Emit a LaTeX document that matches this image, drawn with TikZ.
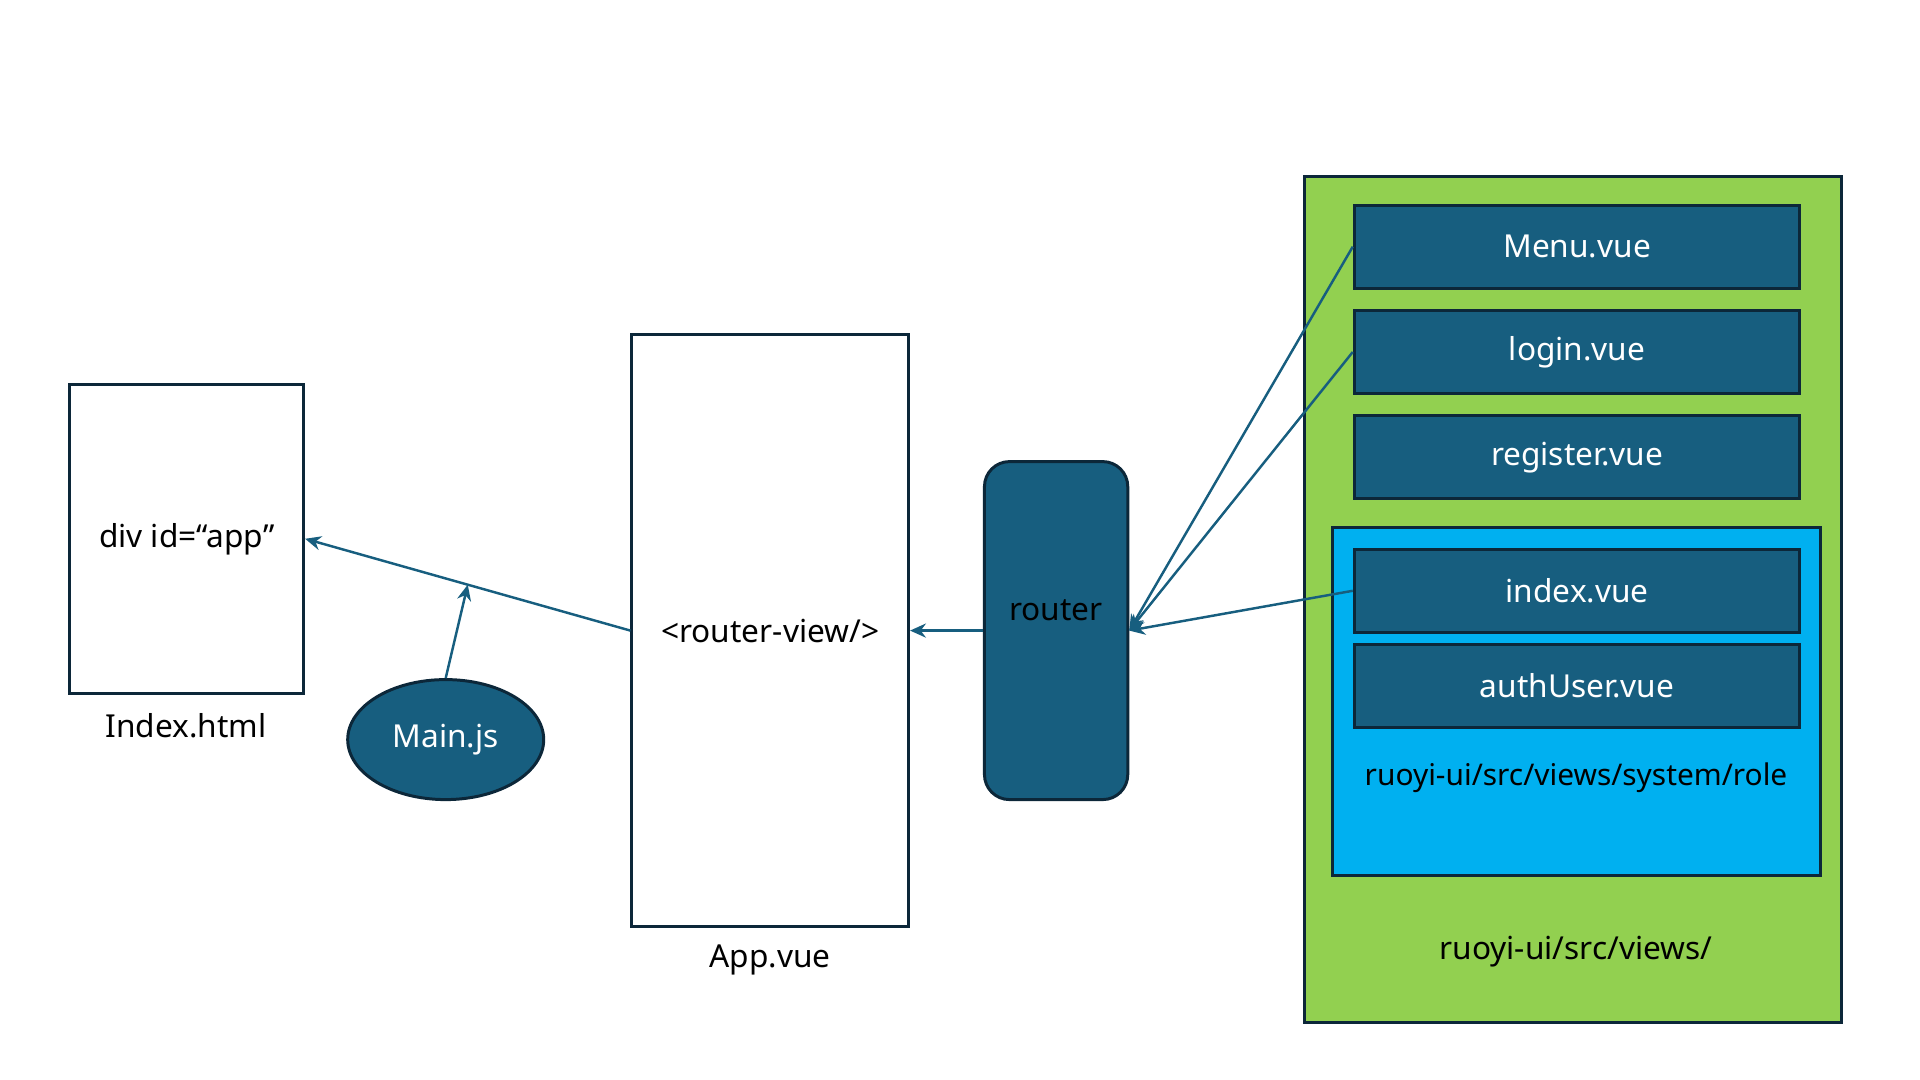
\documentclass[tikz,border=0pt]{standalone}
\usepackage{fontspec}
\setmainfont{Noto Sans}
\usetikzlibrary{arrows.meta, shapes.geometric}
\definecolor{vuefill}{HTML}{175E7F}
\definecolor{edge}{HTML}{0C2739}
\definecolor{viewsgreen}{HTML}{92D050}
\definecolor{roleblue}{HTML}{00B0F0}

\begin{document}
\begin{tikzpicture}[
  font=\fontsize{9}{11}\selectfont, >={Stealth[length=4.5pt,width=4pt]},
  frame/.style={draw=edge, line width=0.85pt, inner sep=0pt},
  page/.style={frame, fill=white},
  file/.style={frame, fill=vuefill, text=white,
               minimum width=4.457cm, minimum height=0.83cm},
  link/.style={->, draw=vuefill, line width=0.7pt},
  caption/.style={inner sep=0pt},
]
\useasboundingbox (0,0) rectangle (19.2,10.8);
% left side
\node[page, minimum width=2.339cm, minimum height=3.086cm] (html) at (1.867,5.412) {div id=“app”};
\node[caption] (htmllbl) at (1.861,3.54) {Index.html};
\node[frame, ellipse, fill=vuefill, text=white, minimum width=1.96cm,
      minimum height=1.2cm] (mainjs) at (4.457,3.404) {Main.js};
\node[page, minimum width=2.767cm, minimum height=5.926cm] (app) at (7.702,4.494) {<router-view/>};
\node[caption] (applbl) at (7.702,1.2) {App.vue};
\node[frame, fill=vuefill, rounded corners=0.25cm, minimum width=1.433cm,
      minimum height=3.38cm, label={[yshift=0.2cm]center:router}] (router) at (10.561,4.494) {};
% views folder
\node[frame, fill=viewsgreen, minimum width=5.376cm, minimum height=8.462cm] (views) at (15.729,4.806) {};
\node[caption] (viewslbl) at (15.759,1.28) {ruoyi-ui/src/views/};
\node[file] (menu)     at (15.771,8.333) {Menu.vue};
\node[file] (login)    at (15.771,7.280) {login.vue};
\node[file] (register) at (15.771,6.227) {register.vue};
% system/role folder
\node[frame, fill=roleblue, minimum width=4.886cm, minimum height=3.477cm] (role) at (15.766,3.784) {};
\node[caption, font=\fontsize{8.5}{10}\selectfont] (rolelbl) at (15.76,3.02) {ruoyi-ui/src/views/system/role};
\node[file] (idx)      at (15.771,4.892) {index.vue};
\node[file] (authuser) at (15.771,3.943) {authUser.vue};

\draw[link] (app.west) -- coordinate[pos=0.5] (mid) (html.east);
\draw[link] (mainjs.north) -- (mid);
\draw[link] (router.west) -- (app.east);
\draw[link] (menu.west) -- (router.east);
\draw[link] (login.west) -- (router.east);
\draw[link] (idx.west) -- (router.east);
\end{tikzpicture}
\end{document}
